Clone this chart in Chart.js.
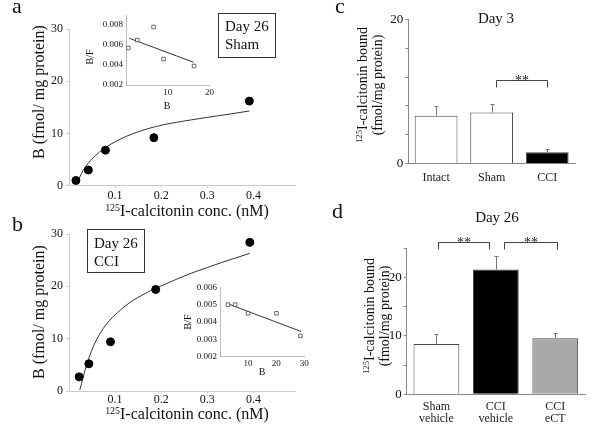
<!DOCTYPE html>
<html>
<head>
<meta charset="utf-8">
<script src="https://cdn.jsdelivr.net/npm/chart.js@4.4.1/dist/chart.umd.min.js"></script>
<style>
  body { margin: 0; background: #fff; }
  #fig { position: relative; width: 600px; height: 434px; overflow: hidden; font-family: 'Liberation Serif', serif; color: #111; }
  canvas { position: absolute; }
  .t { position: absolute; white-space: nowrap; line-height: 1; }
  .c { transform: translate(-50%, -50%); }
  .r { transform: translate(-50%, -50%) rotate(-90deg); text-align: center; }
  .r2 { transform: translate(-50%, -50%) rotate(-90deg); text-align: center; line-height: 15px; font-size: 14px; }
  sup { font-size: 0.62em; vertical-align: 0.55em; line-height: 0; }
  .box { position: absolute; border: 1px solid #333; box-sizing: border-box; font-size: 15px; line-height: 18px; }
</style>
</head>
<body>
<div id="fig">
  <canvas id="cA" width="300" height="200" style="left:0;top:0"></canvas>
  <canvas id="cAi" width="140" height="110" style="left:80px;top:5px"></canvas>
  <canvas id="cB" width="300" height="200" style="left:0;top:210px"></canvas>
  <canvas id="cBi" width="145" height="100" style="left:170px;top:275px"></canvas>
  <canvas id="cC" width="300" height="200" style="left:300px;top:0"></canvas>
  <canvas id="cD" width="300" height="224" style="left:300px;top:210px"></canvas>

  <!-- panel letters -->
  <div class="t" style="left:12px;top:-5px;font-size:22px">a</div>
  <div class="t" style="left:12px;top:213px;font-size:22px">b</div>
  <div class="t" style="left:335px;top:-5px;font-size:22px">c</div>
  <div class="t" style="left:332px;top:200px;font-size:22px">d</div>

  <!-- panel a texts -->
  <div class="t r" style="left:39px;top:92px;font-size:16px">B (fmol/ mg protein)</div>
  <div class="t c" style="left:187px;top:211px;font-size:16px"><sup>125</sup>I-calcitonin conc. (nM)</div>
  <div class="box" style="left:218px;top:13px;width:58px;height:45px;padding:3px 0 0 6px">Day 26<br>Sham</div>
  <div class="t r" style="left:90px;top:57px;font-size:10px">B/F</div>
  <div class="t c" style="left:167px;top:106px;font-size:10px">B</div>

  <!-- panel b texts -->
  <div class="t r" style="left:39px;top:312px;font-size:16px">B (fmol/ mg protein)</div>
  <div class="t c" style="left:187px;top:414px;font-size:16px"><sup>125</sup>I-calcitonin conc. (nM)</div>
  <div class="box" style="left:87px;top:229px;width:58px;height:44px;padding:4px 0 0 6px">Day 26<br>CCI</div>
  <div class="t r" style="left:188px;top:322px;font-size:10px">B/F</div>
  <div class="t c" style="left:262px;top:372px;font-size:10px">B</div>

  <!-- panel c / d texts -->
  <div class="t c" style="left:496px;top:18px;font-size:15px">Day 3</div>
  <div class="t r2" style="left:370px;top:85px"><div><sup>125</sup>I-calcitonin bound</div><div>(fmol/mg protein)</div></div>
  <div class="t c" style="left:497px;top:217px;font-size:15px">Day 26</div>
  <div class="t r2" style="left:377px;top:316px"><div><sup>125</sup>I-calcitonin bound</div><div>(fmol/mg protein)</div></div>
</div>

<script>
// --- data ---
// a: Day 26 Sham saturation
const concA = [0.015, 0.042, 0.079, 0.184, 0.391];
const boundA = [1.0, 3.0, 6.8, 9.2, 16.2];
const fitAx = [0.018, 0.0305, 0.052, 0.080, 0.123, 0.187, 0.265, 0.336, 0.391];
const fitAy = [0.6, 2.9, 5.3, 7.35, 9.4, 11.3, 12.6, 13.55, 14.3];
// a inset: Scatchard
const scatAx = [0.55, 2.7, 6.6, 9.0, 16.3];
const scatAy = [0.0057, 0.0065, 0.0078, 0.0046, 0.0039];
const lineAx = [0.8, 16.2];
const lineAy = [0.00667, 0.00427];

// b: Day 26 CCI saturation
const concB = [0.022, 0.043, 0.090, 0.188, 0.392];
const boundB = [2.7, 5.2, 9.4, 19.4, 28.4];
const fitBx = [0.0234, 0.0376, 0.0518, 0.0695, 0.0872, 0.1227, 0.158, 0.188, 0.229, 0.265, 0.300, 0.336, 0.392];
const fitBy = [0.2, 4.8, 8.3, 11.3, 13.4, 16.3, 18.3, 19.6, 21.2, 22.5, 23.6, 24.7, 26.3];
// b inset
const scatBx = [2.8, 5.4, 10.0, 20.1, 28.6];
const scatBy = [0.0050, 0.0050, 0.0045, 0.0045, 0.0032];
const lineBx = [3.1, 28.9];
const lineBy = [0.00503, 0.00345];

// tick labels
const xTicksMain = [0.1, 0.2, 0.3, 0.4];
const yTicksMain = [0, 10, 20, 30];
const xTicksAi = [10, 20];
const yTicksAi = [0.002, 0.004, 0.006, 0.008];
const xTicksBi = [10, 20, 30];
const yTicksBi = [0.002, 0.003, 0.004, 0.005, 0.006];

// c: Day 3 bars
const catsC = ['Intact', 'Sham', 'CCI'];
const valsC = [6.65, 7.1, 1.6];
const errC = [1.35, 1.2, 0.37];
const fillC = ['#ffffff', '#ffffff', '#000000'];
const bracketsC = [[1.08, 2.0, 11.6]];

// d: Day 26 bars
const catsD = [['Sham', 'vehicle'], ['CCI', 'vehicle'], ['CCI', 'eCT']];
const valsD = [8.63, 21.4, 9.6];
const errD = [1.7, 2.3, 0.9];
const fillD = ['#ffffff', '#000000', '#a9a9a9'];
const bracketsD = [[0.02, 0.886, 26.2], [1.143, 2.025, 26.2]];

Chart.defaults.font.family = "'Liberation Serif', serif";
Chart.defaults.color = '#111';

const pts = (xs, ys) => xs.map((x, i) => ({ x: x, y: ys[i] }));
const fixTicks = list => s => { s.ticks = list.map(v => ({ value: v })); };

// saturation plot with fitted curve
function mainChart(id, xs, ys, fx, fy, padTop, xH, tickPad) {
    return new Chart(document.getElementById(id), {
        type: 'scatter',
        data: {
            datasets: [
                { data: pts(xs, ys), pointRadius: 4, backgroundColor: '#000', borderColor: '#000' },
                { data: pts(fx, fy), showLine: true, pointRadius: 0, borderColor: '#333', borderWidth: 1, cubicInterpolationMode: 'monotone' }
            ]
        },
        options: {
            responsive: false, animation: false, devicePixelRatio: 1,
            layout: { padding: { top: padTop, right: 2, left: 0, bottom: 0 } },
            plugins: { legend: { display: false }, tooltip: { enabled: false } },
            scales: {
                x: {
                    min: 0, max: 0.49,
                    afterBuildTicks: fixTicks(xTicksMain),
                    afterFit: s => { s.height = xH; },
                    ticks: { font: { size: 12 }, padding: tickPad, callback: v => String(v) },
                    grid: { drawOnChartArea: false, tickLength: 2, color: '#ccc' },
                    border: { color: '#ccc' }
                },
                y: {
                    min: 0, max: 30,
                    afterBuildTicks: fixTicks(yTicksMain),
                    afterFit: s => { s.width = 69; },
                    ticks: { font: { size: 12 }, padding: 3 },
                    grid: { drawOnChartArea: false, tickLength: 3, color: '#ccc' },
                    border: { color: '#ccc' }
                }
            }
        }
    });
}

// Scatchard inset
function insetChart(id, xs, ys, lx, ly, o) {
    return new Chart(document.getElementById(id), {
        type: 'scatter',
        data: {
            datasets: [
                { data: pts(xs, ys), pointStyle: 'rect', pointRadius: 2.5, borderWidth: 0.8, borderColor: '#444', backgroundColor: '#fff' },
                { data: pts(lx, ly), showLine: true, pointRadius: 0, borderColor: '#333', borderWidth: 1 }
            ]
        },
        options: {
            responsive: false, animation: false, devicePixelRatio: 1,
            layout: { padding: { top: o.top, right: o.right, left: 0, bottom: 0 } },
            plugins: { legend: { display: false }, tooltip: { enabled: false } },
            scales: {
                x: {
                    min: 0, max: o.xmax,
                    afterBuildTicks: fixTicks(o.xt),
                    afterFit: s => { s.height = o.xH; },
                    ticks: { font: { size: 9 }, padding: 2 },
                    grid: { display: false, drawTicks: false },
                    border: { color: '#bbb' }
                },
                y: {
                    min: 0.002, max: o.ymax,
                    afterBuildTicks: fixTicks(o.yt),
                    afterFit: s => { s.width = o.yW; },
                    ticks: { font: { size: 9 }, padding: 3, callback: v => v.toFixed(3) },
                    grid: { display: false, drawTicks: false },
                    border: { color: '#bbb' }
                }
            }
        }
    });
}

// error bars + significance brackets
function sigPlugin(errs, brackets) {
    return {
        id: 'sig',
        afterDatasetsDraw(chart) {
            const { ctx, scales: { x, y } } = chart;
            const vals = chart.data.datasets[0].data;
            ctx.save();
            ctx.lineWidth = 1;
            ctx.strokeStyle = '#777';
            chart.getDatasetMeta(0).data.forEach((bar, i) => {
                const bx = Math.round(bar.x) + 0.5;
                const top = Math.round(y.getPixelForValue(vals[i] + errs[i])) + 0.5;
                ctx.beginPath();
                ctx.moveTo(bx, bar.y);
                ctx.lineTo(bx, top);
                ctx.moveTo(bx - 2, top);
                ctx.lineTo(bx + 2, top);
                ctx.stroke();
            });
            ctx.strokeStyle = '#444';
            ctx.fillStyle = '#222';
            ctx.font = "14px 'Liberation Serif'";
            ctx.textAlign = 'center';
            brackets.forEach(b => {
                const x1 = Math.round(x.getPixelForValue(b[0])) + 0.5;
                const x2 = Math.round(x.getPixelForValue(b[1])) + 0.5;
                const yb = Math.round(y.getPixelForValue(b[2])) + 0.5;
                ctx.beginPath();
                ctx.moveTo(x1, yb + 7);
                ctx.lineTo(x1, yb);
                ctx.lineTo(x2, yb);
                ctx.lineTo(x2, yb + 7);
                ctx.stroke();
                ctx.fillText('**', (x1 + x2) / 2, yb + 4);
            });
            ctx.restore();
        }
    };
}

function barChart(id, cats, vals, fills, errs, brackets, o) {
    return new Chart(document.getElementById(id), {
        type: 'bar',
        data: {
            labels: cats,
            datasets: [{ data: vals, backgroundColor: fills, borderColor: '#444', borderWidth: 1, barPercentage: 0.77, categoryPercentage: 1 }]
        },
        options: {
            responsive: false, animation: false, devicePixelRatio: 1,
            layout: { padding: { top: o.top, right: o.right, left: 0, bottom: 0 } },
            plugins: { legend: { display: false }, tooltip: { enabled: false } },
            scales: {
                x: {
                    afterFit: s => { s.height = o.xH; },
                    ticks: { font: { size: 12, lineHeight: 1.05 }, padding: o.xPad, color: '#222' },
                    grid: { display: false, drawTicks: false },
                    border: { color: '#888' }
                },
                y: {
                    min: 0, max: o.ymax,
                    afterFit: s => { s.width = o.yW; },
                    ticks: { stepSize: o.step, font: { size: 13 }, padding: 2, callback: v => (v % 10 === 0 ? v : '') },
                    grid: { drawOnChartArea: false, tickLength: 3, color: '#888' },
                    border: { color: '#888' }
                }
            }
        },
        plugins: [sigPlugin(errs, brackets)]
    });
}

mainChart('cA', concA, boundA, fitAx, fitAy, 29, 14.3, 1);
insetChart('cAi', scatAx, scatAy, lineAx, lineAy,
    { top: 10, right: 10.5, xH: 30, yW: 46, xmax: 20, ymax: 0.009, xt: xTicksAi, yt: yTicksAi });
mainChart('cB', concB, boundB, fitBx, fitBy, 24, 19, 0);
insetChart('cBi', scatBx, scatBy, lineBx, lineBy,
    { top: 12.3, right: 10.7, xH: 18.3, yW: 50, xmax: 30, ymax: 0.006, xt: xTicksBi, yt: yTicksBi });
barChart('cC', catsC, valsC, fillC, errC, bracketsC,
    { top: 19.3, right: 25, xH: 36.3, yW: 108.3, ymax: 20, step: 2, xPad: 8 });
barChart('cD', catsD, valsD, fillD, errD, bracketsD,
    { top: 38.5, right: 15, xH: 39.7, yW: 106.7, ymax: 25, step: 5, xPad: 6 });
</script>
</body>
</html>
